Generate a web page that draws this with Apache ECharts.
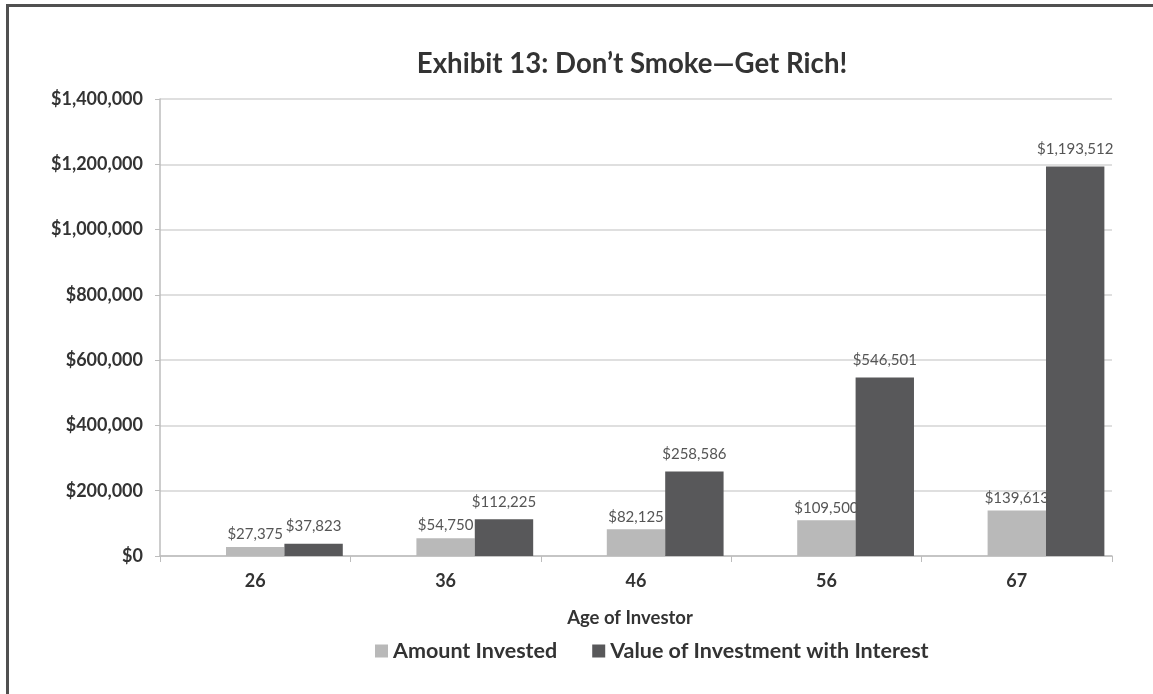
<!DOCTYPE html>
<html>
<head>
<meta charset="utf-8">
<script src="https://cdn.jsdelivr.net/npm/echarts@6/dist/echarts.min.js"></script>
<style>
html,body{margin:0;padding:0;background:#fff;}
#frame{position:absolute;left:6px;top:4px;width:1147px;height:690px;border-top:3px solid #505050;border-left:3px solid #505050;box-sizing:border-box;}
#chart{position:absolute;left:0;top:0;width:1153px;height:694px;}
</style>
</head>
<body>
<div id="frame"></div>
<div id="chart"></div>
<script>
const categories = ['26', '36', '46', '56', '67'];
const amountInvested = [27375, 54750, 82125, 109500, 139613];
const valueWithInterest = [37823, 112225, 258586, 546501, 1193512];
const emptySlot = [null, null, null, null, null];
const seriesNames = ['Amount Invested', 'Value of Investment with Interest'];
const yTicks = [0, 200000, 400000, 600000, 800000, 1000000, 1200000, 1400000];

const FONT = 'Lato, "Open Sans", sans-serif';
const money = v => '$' + Math.round(v).toLocaleString('en-US');

const chart = echarts.init(document.getElementById('chart'), null, {renderer: 'canvas'});
chart.setOption({
  backgroundColor: 'transparent',
  animation: false,
  title: {
    text: 'Exhibit 13: Don\u2019t Smoke\u2014Get Rich!',
    left: 627, top: 45, textAlign: 'center',
    textStyle: {fontFamily: FONT, fontWeight: 'bold', fontSize: 27.6, color: '#333'}
  },
  legend: {
    data: seriesNames,
    left: 370, top: 635,
    itemWidth: 13, itemHeight: 13, itemGap: 35,
    icon: 'rect',
    textStyle: {fontFamily: FONT, fontWeight: 'bold', fontSize: 21.5, color: '#333'}
  },
  grid: {left: 160, right: 41, top: 99, bottom: 138, containLabel: false},
  xAxis: {
    type: 'category',
    data: categories,
    name: 'Age of Investor',
    nameLocation: 'middle',
    nameGap: 53,
    nameTextStyle: {fontFamily: FONT, fontWeight: 'bold', fontSize: 18.5, color: '#333', padding: [0, 12, 0, 0]},
    axisLine: {lineStyle: {color: '#bdbdbd', width: 1.5}},
    axisTick: {show: true, length: 6, lineStyle: {color: '#bdbdbd'}},
    axisLabel: {fontFamily: FONT, fontWeight: 'bold', fontSize: 18, color: '#333', margin: 16}
  },
  yAxis: {
    type: 'value',
    min: yTicks[0], max: yTicks[yTicks.length - 1], interval: yTicks[1] - yTicks[0],
    axisLine: {show: true, lineStyle: {color: '#bdbdbd', width: 1.5}},
    axisTick: {show: true, length: 5, lineStyle: {color: '#bdbdbd'}},
    splitLine: {lineStyle: {color: '#d4d4d4', width: 1.5}},
    axisLabel: {fontFamily: FONT, fontWeight: 'bold', fontSize: 18, color: '#333', margin: 17, formatter: money}
  },
  series: [
    {
      name: 'empty', type: 'bar', data: emptySlot,
      barGap: '0%', barCategoryGap: '8%'
    },
    {
      name: seriesNames[0], type: 'bar', data: amountInvested,
      barGap: '0%', barCategoryGap: '8%',
      itemStyle: {color: '#b9b9b9'},
      label: {show: true, position: 'top', distance: 5, formatter: p => money(p.value),
        fontFamily: FONT, fontSize: 15, color: '#555'}
    },
    {
      name: seriesNames[1], type: 'bar', data: valueWithInterest,
      barGap: '0%', barCategoryGap: '8%',
      itemStyle: {color: '#58585a'},
      label: {show: true, position: 'top', distance: 10, formatter: p => money(p.value),
        fontFamily: FONT, fontSize: 15, color: '#555'}
    }
  ]
});
</script>
</body>
</html>
